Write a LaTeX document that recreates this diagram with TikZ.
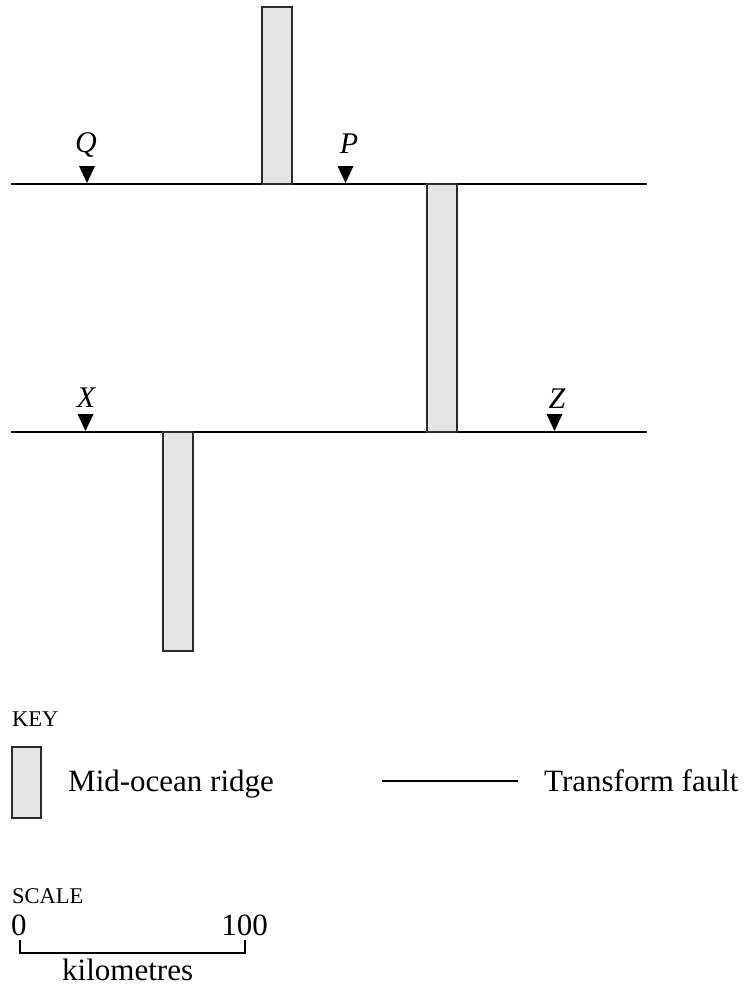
\documentclass[tikz,border=0pt]{standalone}
\usepackage{fontspec}
\setmainfont{Liberation Serif}
\definecolor{ridgefill}{HTML}{E4E4E4}
\definecolor{ridgeline}{HTML}{2A2A2A}
\begin{document}
\begin{tikzpicture}[x=1pt,y=-1pt,
  ridge/.style={draw=ridgeline,line width=1.3pt,fill=ridgefill},
  fault/.style={line width=1.4pt},
  marker/.style={fill=black},
  lbl/.style={inner sep=0pt,anchor=base,font=\fontsize{30}{30}\selectfont\itshape},
  txt/.style={inner sep=0pt,anchor=base west,font=\fontsize{31}{31}\selectfont},
  smalltxt/.style={inner sep=0pt,anchor=base west,font=\fontsize{22.5}{22.5}\selectfont}]
\useasboundingbox (0,0) rectangle (748,990);

% transform faults
\coordinate (f1w) at (11,184);
\coordinate (f1e) at (647,184);
\coordinate (f2w) at (11,432);
\coordinate (f2e) at (647,432);
\draw[fault] (f1w) -- (f1e);
\draw[fault] (f2w) -- (f2e);

% ridges
\draw[ridge] (262,7) rectangle (292,184);
\draw[ridge] (427,184) rectangle (457,432);
\draw[ridge] (163,432) rectangle (193,651);

% markers
\coordinate (mQ) at (87,183);
\coordinate (mP) at (345.5,183);
\coordinate (mX) at (85.5,431);
\coordinate (mZ) at (554.5,431);
\foreach \m in {mQ,mP,mX,mZ}
  \fill[marker] (\m) -- ++(-8,-17) -- ++(16,0) -- cycle;

\node[lbl] (Q) at (86,152) {Q};
\node[lbl] (P) at (349,153) {P};
\node[lbl] (X) at (86,407) {X};
\node[lbl] (Z) at (557,408) {Z};

% key
\node[smalltxt] (key) at (12,726) {KEY};
\draw[ridge] (12,747) rectangle (41,818);
\node[txt] (mor) at (68,791) {Mid-ocean ridge};
\coordinate (kl1) at (382,781);
\coordinate (kl2) at (518,781);
\draw[line width=1.2pt] (kl1) -- (kl2);
\node[txt] (tf) at (544,791) {Transform fault};

% scale
\node[smalltxt] (scale) at (12,903) {SCALE};
\node[txt] (zero) at (11,935) {0};
\node[inner sep=0pt,anchor=base east,font=\fontsize{31}{31}\selectfont] (hundred) at (268,935) {100};
\coordinate (s1) at (20,940);
\coordinate (s2) at (20,953);
\coordinate (s3) at (245,953);
\coordinate (s4) at (245,940);
\draw[line width=1.4pt] (s1) -- (s2) -- (s3) -- (s4);
\node[txt] (km) at (62,980) {kilometres};
\end{tikzpicture}
\end{document}
